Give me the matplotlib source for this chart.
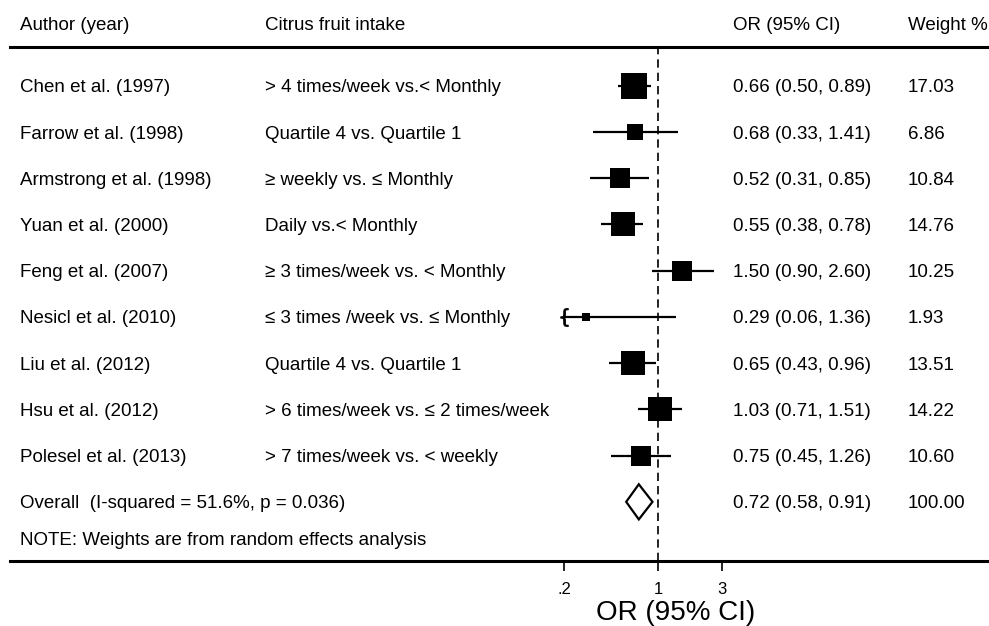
import matplotlib.pyplot as plt
from matplotlib.patches import Polygon
from matplotlib.transforms import blended_transform_factory
import numpy as np

plt.rcParams['font.family'] = ['Liberation Sans', 'DejaVu Sans']

# data
authors = ['Chen et al. (1997)', 'Farrow et al. (1998)', 'Armstrong et al. (1998)',
           'Yuan et al. (2000)', 'Feng et al. (2007)', 'Nesicl et al. (2010)',
           'Liu et al. (2012)', 'Hsu et al. (2012)', 'Polesel et al. (2013)']
intake = ['> 4 times/week vs.< Monthly', 'Quartile 4 vs. Quartile 1',
          '≥ weekly vs. ≤ Monthly', 'Daily vs.< Monthly',
          '≥ 3 times/week vs. < Monthly', '≤ 3 times /week vs. ≤ Monthly',
          'Quartile 4 vs. Quartile 1', '> 6 times/week vs. ≤ 2 times/week',
          '> 7 times/week vs. < weekly']
or_val = [0.66, 0.68, 0.52, 0.55, 1.50, 0.29, 0.65, 1.03, 0.75]
ci_lo = [0.50, 0.33, 0.31, 0.38, 0.90, 0.06, 0.43, 0.71, 0.45]
ci_hi = [0.89, 1.41, 0.85, 0.78, 2.60, 1.36, 0.96, 1.51, 1.26]
weights = [17.03, 6.86, 10.84, 14.76, 10.25, 1.93, 13.51, 14.22, 10.60]

overall_label = 'Overall  (I-squared = 51.6%, p = 0.036)'
overall_or, overall_lo, overall_hi = 0.72, 0.58, 0.91
note = 'NOTE: Weights are from random effects analysis'

xticks = [0.2, 1, 3]
xtick_labels = ['.2', '1', '3']

fig = plt.figure(figsize=(9.89, 6.26), dpi=100)
W, H = 989, 626
left_px, right_px, top_px, bot_px = 10, 989, 47, 561
ax = fig.add_axes([left_px / W, (H - bot_px) / H, (right_px - left_px) / W, (bot_px - top_px) / H])

# log x scale (1 at px 658, ~134.5 px per decade)
ppd = 134.5
ax.set_xscale('log')
ax.set_xlim(10 ** ((left_px - 658) / ppd), 10 ** ((right_px - 658) / ppd))
ax.set_ylim(10.28, -0.84)

n = len(authors)
y = np.arange(n)
xmin_clip = 0.2

for i in range(n):
    lo = max(ci_lo[i], xmin_clip)
    ax.plot([lo, ci_hi[i]], [y[i], y[i]], color='black', lw=1.6, solid_capstyle='butt')
    if ci_lo[i] < xmin_clip:
        # clipped CI: small bracket at the axis limit
        ax.plot([lo], [y[i]], marker='$\\{$', color='black', ms=13, mew=0.6)
    ax.plot(or_val[i], y[i], marker='s', color='black', mew=0,
            ms=4.55 * np.sqrt(weights[i]))

# overall diamond
yo = n
dh = 0.38
diamond = Polygon([[overall_lo, yo], [overall_or, yo - dh], [overall_hi, yo], [overall_or, yo + dh]],
                  closed=True, facecolor='white', edgecolor='black', lw=1.6, zorder=3)
ax.add_patch(diamond)

# null line
ax.axvline(1, color='black', lw=1.2, ls=(0, (5, 3)), zorder=1)

# text columns
tr = blended_transform_factory(fig.transFigure, ax.transData)
fs = 13.5
va = 'center_baseline'
cols = [20 / W, 265 / W, 733 / W, 908 / W]
for i in range(n):
    ax.text(cols[0], y[i], authors[i], transform=tr, fontsize=fs, va=va)
    ax.text(cols[1], y[i], intake[i], transform=tr, fontsize=fs, va=va)
    ax.text(cols[2], y[i], '%.2f (%.2f, %.2f)' % (or_val[i], ci_lo[i], ci_hi[i]),
            transform=tr, fontsize=fs, va=va)
    ax.text(cols[3], y[i], '%.2f' % weights[i], transform=tr, fontsize=fs, va=va)
ax.text(cols[0], yo, overall_label, transform=tr, fontsize=fs, va=va)
ax.text(cols[2], yo, '%.2f (%.2f, %.2f)' % (overall_or, overall_lo, overall_hi),
        transform=tr, fontsize=fs, va=va)
ax.text(cols[3], yo, '%.2f' % sum(weights), transform=tr, fontsize=fs, va=va)
ax.text(cols[0], yo + 0.8, note, transform=tr, fontsize=fs, va=va)

# header
hy = 1 - 24 / H
fig.text(cols[0], hy, 'Author (year)', fontsize=fs, va=va)
fig.text(cols[1], hy, 'Citrus fruit intake', fontsize=fs, va=va)
fig.text(cols[2], hy, 'OR (95% CI)', fontsize=fs, va=va)
fig.text(cols[3], hy, 'Weight %', fontsize=fs, va=va)

# axes styling
for s in ['left', 'right']:
    ax.spines[s].set_visible(False)
ax.spines['top'].set_linewidth(2.2)
ax.spines['bottom'].set_linewidth(2.2)
ax.set_yticks([])
ax.set_xticks(xticks)
ax.set_xticklabels(xtick_labels, fontsize=12)
ax.minorticks_off()
ax.tick_params(axis='x', direction='out', length=7, width=1.2, pad=8)
ax.set_xlabel('OR (95% CI)', fontsize=20)
ax.xaxis.set_label_coords((676 - left_px) / (right_px - left_px), -(620 - bot_px) / (bot_px - top_px))
ax.xaxis.label.set_va('baseline')

fig.savefig('out.png', dpi=100)
